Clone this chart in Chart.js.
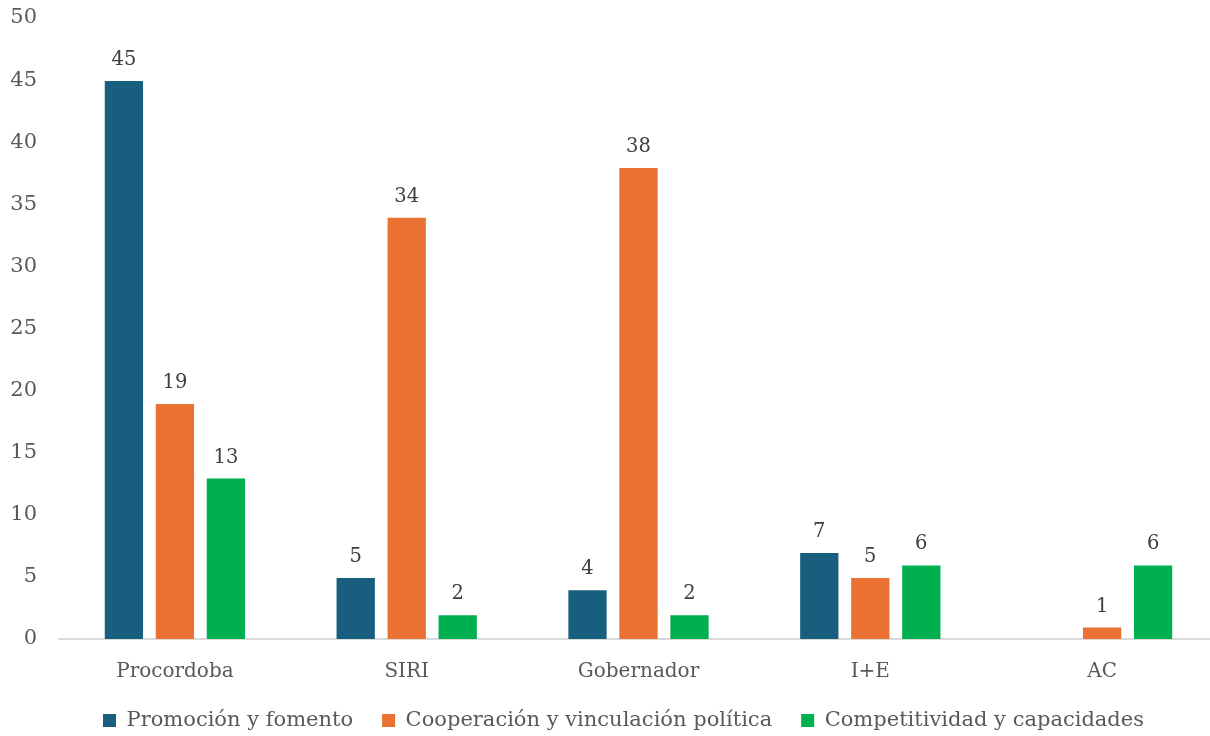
<!DOCTYPE html>
<html>
<head>
<meta charset="utf-8">
<script src="https://cdn.jsdelivr.net/npm/chart.js@4"></script>
<style>
  body { margin: 0; overflow: hidden; background: #fff; }
  #wrap { width: 1218px; height: 736px; position: relative; }
</style>
</head>
<body>
<div id="wrap"><canvas id="chart1"></canvas></div>
<script>
const ctx = document.getElementById('chart1');

const categories = ['Procordoba', 'SIRI', 'Gobernador', 'I+E', 'AC'];
const promocion = [45, 5, 4, 7, null];
const cooperacion = [19, 34, 38, 5, 1];
const competitividad = [13, 2, 2, 6, 6];
const yTicks = [0, 5, 10, 15, 20, 25, 30, 35, 40, 45, 50];

const colors = {
  blue: '#175e7f',
  orange: '#e97132',
  green: '#00b050'
};

const serif = '"DejaVu Serif", serif';

const createDataset = (label, data, color) => ({
  label: label,
  data: data,
  backgroundColor: colors[color],
  borderColor: 'rgba(255,255,255,0.5)',
  borderWidth: 1,
  barPercentage: 0.79,
  categoryPercentage: 0.66
});

// draws the value above each bar
const valueLabels = {
  id: 'valueLabels',
  afterDatasetsDraw(chart) {
    const c = chart.ctx;
    c.save();
    c.font = '19.5px ' + serif;
    c.fillStyle = '#404040';
    c.textAlign = 'center';
    c.textBaseline = 'alphabetic';
    chart.data.datasets.forEach((ds, i) => {
      chart.getDatasetMeta(i).data.forEach((bar, j) => {
        if (ds.data[j] == null) return;
        c.fillText(ds.data[j], bar.x, bar.y - 15);
      });
    });
    c.restore();
  }
};

// legend padding is also used vertically, so squeeze the legend box
const legendFit = {
  id: 'legendFit',
  beforeLayout(chart) {
    const lg = chart.legend;
    if (!lg || lg._patched) return;
    const fit = lg.fit;
    lg.fit = function () { fit.call(this); this.height = 31; };
    lg._patched = true;
  },
  afterLayout(chart) {
    const lg = chart.legend;
    lg.top = 681;
    lg.left += 9;
    lg.right += 9;
  }
};

new Chart(ctx, {
  type: 'bar',
  data: {
    labels: categories,
    datasets: [
      createDataset('Promoción y fomento', promocion, 'blue'),
      createDataset('Cooperación y vinculación política', cooperacion, 'orange'),
      createDataset('Competitividad y capacidades', competitividad, 'green')
    ]
  },
  options: {
    responsive: true,
    maintainAspectRatio: false,
    animation: false,
    layout: { padding: { top: 0, left: 11, right: 0, bottom: 0 } },
    scales: {
      x: {
        grid: { display: false, drawTicks: false },
        border: { display: true, color: '#d9d9d9', width: 2 },
        ticks: { color: '#595959', font: { family: serif, size: 20 }, padding: 21 }
      },
      y: {
        min: 0,
        max: 50,
        afterBuildTicks: (axis) => { axis.ticks = yTicks.map(v => ({ value: v })); },
        afterFit: (axis) => { axis.width = 48; axis.paddingTop = 18; axis.paddingBottom = 0; },
        grid: { display: false, drawTicks: false },
        border: { display: false },
        ticks: { color: '#595959', font: { family: serif, size: 21 }, padding: 22 }
      }
    },
    plugins: {
      tooltip: { enabled: false },
      legend: {
        position: 'bottom',
        labels: {
          color: '#595959',
          font: { family: serif, size: 21 },
          boxWidth: 13,
          boxHeight: 13,
          padding: 29,
          generateLabels: (chart) => chart.data.datasets.map((ds, i) => ({
            text: ds.label,
            fillStyle: ds.backgroundColor,
            strokeStyle: ds.backgroundColor,
            lineWidth: 0,
            datasetIndex: i,
            fontColor: '#595959'
          }))
        }
      }
    }
  },
  plugins: [valueLabels, legendFit]
});
</script>
</body>
</html>
